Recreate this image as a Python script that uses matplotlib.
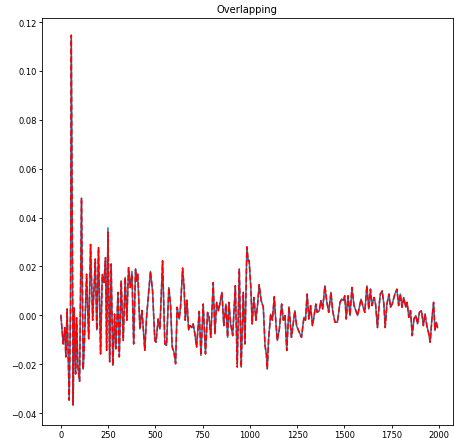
import matplotlib
matplotlib.use('Agg')
import matplotlib.pyplot as plt

# sample index
steps = [0, 12, 21, 26, 33, 44, 51, 55, 65, 70, 78, 83, 90, 99, 109, 118, 123, 136, 147, 157,
         168, 182, 190, 199, 210, 219, 228, 236, 242, 249, 258, 266, 275, 284, 291, 302, 309, 319,
         330, 340, 349, 358, 367, 376, 385, 395, 400, 407, 418, 429, 444, 453, 464, 474, 485, 497,
         503, 515, 524, 538, 550, 559, 571, 580, 589, 598, 607, 615, 626, 633, 644, 652, 658, 667,
         676, 683, 693, 700, 709, 718, 732, 741, 753, 765, 776, 784, 793, 806, 815, 824, 834, 841,
         852, 862, 873, 882, 889, 898, 909, 923, 933, 944, 954, 965, 974, 984, 991, 996, 1005, 1012,
         1021, 1032, 1041, 1049, 1060, 1071, 1080, 1087, 1092, 1099, 1110, 1119, 1129, 1138, 1145,
         1156, 1168, 1177, 1186, 1195, 1207, 1220, 1238, 1247, 1261, 1273, 1286, 1294, 1303, 1312,
         1321, 1331, 1340, 1349, 1356, 1367, 1376, 1385, 1397, 1406, 1417, 1429, 1438, 1450, 1463,
         1477, 1486, 1494, 1502, 1510, 1519, 1530, 1540, 1551, 1561, 1570, 1579, 1588, 1597, 1608,
         1619, 1629, 1638, 1646, 1657, 1665, 1675, 1683, 1690, 1700, 1709, 1716, 1725, 1736, 1744,
         1753, 1767, 1778, 1787, 1796, 1805, 1814, 1825, 1832, 1841, 1850, 1859, 1868, 1878, 1887,
         1897, 1908, 1918, 1927, 1936, 1945, 1954, 1963, 1972, 1979, 1986, 1993]

actual = [0.0, -0.0117, -0.005, -0.017, 0.0026, -0.0347, 0.003, 0.1146, -0.0367, 0.003, -0.024,
          -0.001, -0.021, -0.027, 0.048, -0.022, -0.014, 0.0168, -0.0096, 0.029, -0.002, 0.023,
          -0.006, 0.0277, -0.0158, 0.0168, 0.0134, 0.0236, -0.0143, 0.0358, -0.019, 0.021, -0.0205,
          0.0005, -0.0137, 0.0094, -0.017, 0.014, -0.0103, 0.0155, -0.002, 0.0195, 0.0114, 0.018,
          -0.0117, 0.0189, 0.014, 0.0168, -0.0056, 0.002, -0.0143, -0.001, 0.0087, 0.018, 0.010,
          -0.0103, -0.011, -0.0015, -0.0056, 0.0223, -0.0117, -0.0123, 0.0114, 0.0046, -0.013,
          -0.015, -0.0198, 0.0033, -0.0015, 0.0033, 0.0193, 0.0114, -0.002, 0.0062, -0.006, -0.0042,
          -0.005, -0.0035, -0.0076, -0.013, 0.0016, -0.0164, 0.0046, -0.0158, 0.0012, -0.0008,
          -0.009, 0.0134, -0.0076, 0.0053, 0.0019, 0.0046, 0.0094, -0.0042, 0.0046, -0.009, 0.0053,
          -0.0035, -0.0083, 0.0121, -0.0198, 0.0189, -0.0212, 0.0094, -0.0117, 0.028, 0.0223,
          0.0225, 0.0114, -0.0035, 0.0073, -0.002, 0.0046, 0.0125, 0.006, 0.0033, -0.0123, -0.0158,
          -0.0219, -0.0096, 0.0005, -0.002, 0.0076, -0.0035, -0.0103, -0.0056, 0.0046, -0.002,
          -0.0001, -0.0144, 0.0035, -0.009, 0.0019, -0.0042, -0.0069, -0.009, -0.0008, -0.002,
          0.0087, -0.0015, 0.004, -0.0042, -0.0001, 0.0046, 0.0012, 0.0019, 0.006, 0.0026, 0.0121,
          0.006, 0.0012, 0.0094, 0.0019, -0.0028, -0.0028, 0.0053, 0.0066, 0.006, 0.008, -0.0015,
          0.008, -0.0001, 0.0114, 0.004, 0.0019, -0.0001, 0.0033, 0.0066, 0.004, 0.0012, 0.0121,
          0.0026, 0.0107, 0.004, 0.0073, 0.0046, -0.005, 0.0033, 0.0087, 0.010, 0.0046, -0.005,
          0.0046, 0.0087, 0.0033, 0.0046, 0.0087, 0.0107, 0.004, 0.0087, 0.0033, 0.0073, 0.0033,
          0.0053, -0.0008, 0.0019, -0.0083, -0.0015, -0.0001, -0.0035, 0.0012, 0.0019, -0.0042,
          0.0005, -0.0042, -0.0069, -0.011, -0.0015, 0.0053, -0.0062, -0.0028, -0.005]

# predicted follows actual except where the red dashes part from the blue
pred_diff = {29: 0.0340, 100: -0.0212, 43: 0.0170}
predicted = [pred_diff.get(i, v) for i, v in enumerate(actual)]

fig = plt.figure(figsize=(4.54, 4.39), dpi=100)
ax = fig.add_axes([0.0925, 0.03, 0.905, 0.927])

ax.plot(steps, actual, color='#1f77b4', lw=1.1)
ax.plot(steps, predicted, color='red', lw=1.1, ls='--')

ax.set_title('Overlapping', fontsize=7.2, pad=4)
ax.set_xlim(-100, 2074)
ax.set_ylim(-0.0448, 0.1217)
ax.set_xticks([0, 250, 500, 750, 1000, 1250, 1500, 1750, 2000])
ax.set_yticks([-0.04, -0.02, 0.0, 0.02, 0.04, 0.06, 0.08, 0.10, 0.12])
ax.tick_params(labelsize=6, length=2.1, width=0.6, pad=1.5)
for spine in ax.spines.values():
    spine.set_linewidth(0.6)

fig.savefig('out.png', dpi=100)
